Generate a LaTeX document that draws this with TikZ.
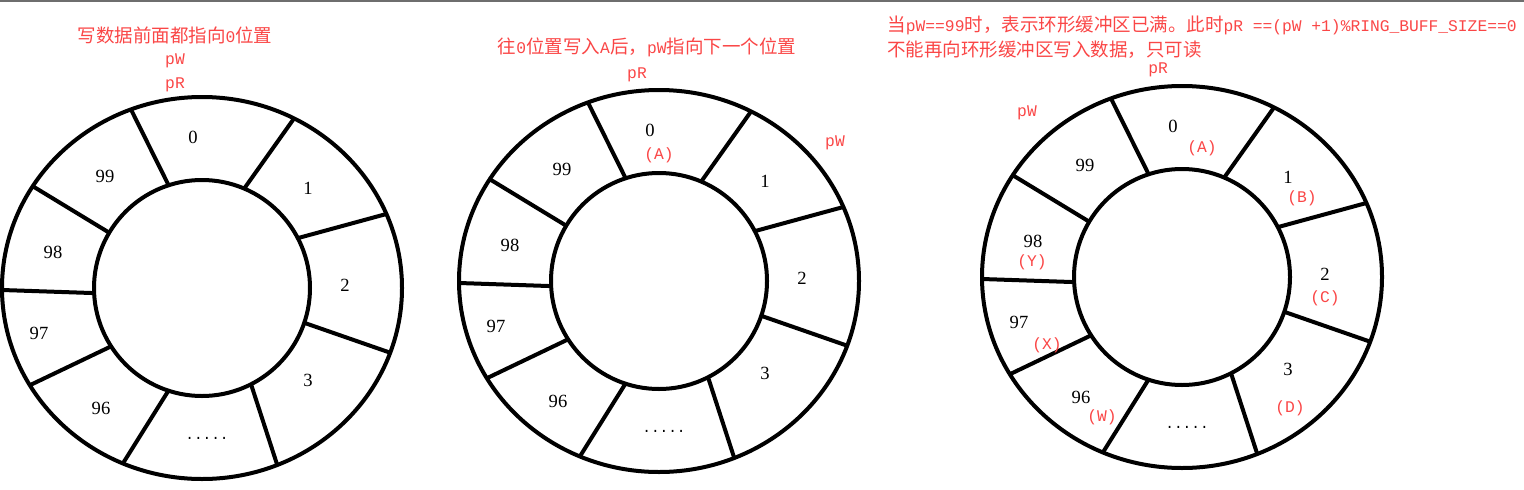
\documentclass[tikz,border=0pt]{standalone}
\usepackage{fontspec}
\setmainfont{Liberation Serif}
\newfontfamily\cjk{Noto Sans CJK SC}
\newfontfamily\redlat{Liberation Mono}[Scale=0.88]
\usetikzlibrary{positioning,calc}
\definecolor{notered}{RGB}{250,70,70}
\definecolor{edgegray}{RGB}{110,110,110}
\newcommand{\lt}[1]{{\redlat #1}}

\begin{document}
\begin{tikzpicture}[
    x=0.5pt, y=0.5pt,
    ringline/.style={line width=2pt},
    cellnum/.style={font=\fontsize{9.3}{10}\selectfont, inner sep=0pt},
    note/.style={text=notered, font=\fontsize{9.25}{12.5}\selectfont\cjk, inner sep=0pt},
    ptr/.style={note, font=\fontsize{9.25}{11}\selectfont\redlat},
    tag/.style={ptr}
]
    \useasboundingbox (0,0) rectangle (1524,489);
    \draw[edgegray, line width=1pt] (0,488.5) -- (1524,488.5);

    % ring centres
    \coordinate (c1) at (202,201);
    \coordinate (c2) at (659,208);
    \coordinate (c3) at (1182,212);

    % rings, spokes and cell numbers
    \foreach \c in {c1,c2,c3} {
        \draw[ringline] (\c) ellipse [x radius=200, y radius=191];
        \draw[ringline] (\c) circle [radius=108];
        \foreach \a/\b in {110.8/108, 62.6/67, 22.8/27.5, -19.8/-18.8, -67.9/-63,
                           246.7/251.9, 210.6/212.7, 180.6/182.7, 147.8/149.2}
            \draw[ringline] ($(\c)+(\b:108)$) -- ($(\c)+(\a:200 and 191)$);
        \foreach \t/\dx/\dy in {0/-9/151, 99/-97/112, 1/106/100, 98/-149/36,
                                2/143/3, 97/-163/-45, 3/106/-92, 96/-101/-120}
            \node[cellnum] (\c-n\t) at ($(\c)+(\dx,\dy)$) {\t};
        \node[cellnum, font=\fontsize{8.2}{10}\selectfont\redlat] (\c-dots) at ($(\c)+(5,-150)$) {.....};
    }

    % first ring: before writing
    \node[note] (title1) at (175,454) {写数据前面都指向\lt{0}位置};
    \node[ptr, below=4.5pt of title1] (pw1) {pW};
    \node[ptr, below=4.5pt of pw1] (pr1) {pR};

    % second ring: after writing A
    \node[note] (title2) at (647,442) {往\lt{0}位置写入\lt{A}后，\lt{pW}指向下一个位置};
    \node[ptr] (pr2) at ($(c2)+(-22,206)$) {pR};
    \node[ptr] (pw2) at ($(c2)+(176,138)$) {pW};
    \node[tag] (a2) at ($(c2)+(0,126)$) {(A)};

    % third ring: buffer full
    \node[note, anchor=west, align=left] (title3) at (887,451.5)
        {当\lt{pW==99}时，表示环形缓冲区已满。此时\lt{pR ==(pW +1)\%RING\_BUFF\_SIZE==0}\\
         不能再向环形缓冲区写入数据，只可读};
    \node[ptr] (pr3) at ($(c3)+(-24,207)$) {pR};
    \node[ptr] (pw3) at ($(c3)+(-155,164)$) {pW};
    \node[tag] (a3) at ($(c3)+(20,129)$) {(A)};
    \node[tag] (b3) at ($(c3)+(120,79)$) {(B)};
    \node[tag] (cc3) at ($(c3)+(143,-21)$) {(C)};
    \node[tag] (d3) at ($(c3)+(108,-131)$) {(D)};
    \node[tag] (w3) at ($(c3)+(-80,-140)$) {(W)};
    \node[tag] (x3) at ($(c3)+(-135,-68)$) {(X)};
    \node[tag] (y3) at ($(c3)+(-150,15)$) {(Y)};
\end{tikzpicture}
\end{document}
